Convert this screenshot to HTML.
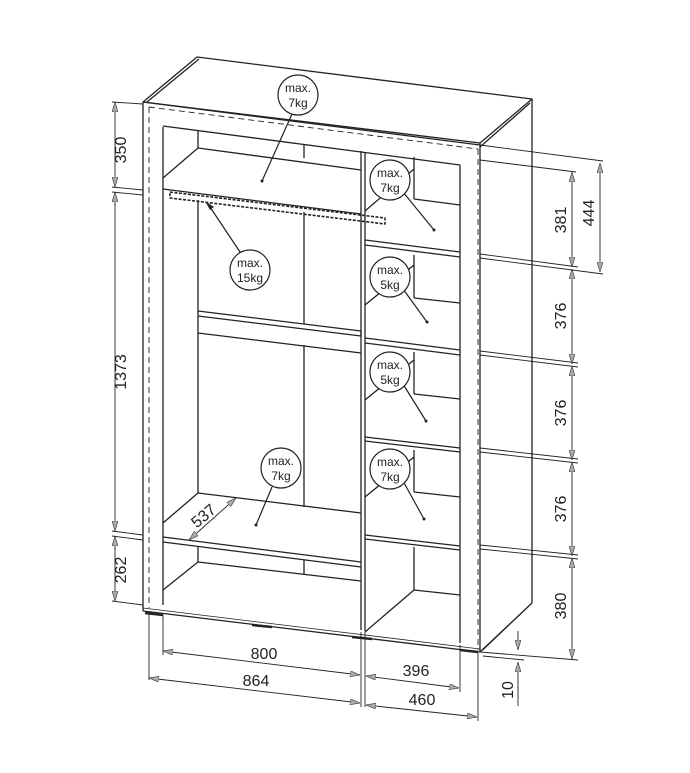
<!DOCTYPE html>
<html><head><meta charset="utf-8"><style>
html,body{margin:0;padding:0;background:#fff;}
svg{display:block;}
text{font-family:"Liberation Sans",sans-serif;fill:#222;}
</style></head><body>
<svg width="690" height="773" viewBox="0 0 690 773" xmlns="http://www.w3.org/2000/svg">
<defs>
<marker id="a" viewBox="0 0 10 6" refX="10" refY="3" markerWidth="10" markerHeight="6" orient="auto-start-reverse" markerUnits="userSpaceOnUse"><path d="M0,0 L10,3 L0,6 z" fill="#aaa" stroke="#333" stroke-width="0.6"/></marker>
</defs>
<g stroke="#222" stroke-width="1.3" fill="none" stroke-linejoin="round">
<!-- top face -->
<polygon points="143,102 197,57 532,99 480,143" fill="#fff"/>
<line x1="147" y1="102" x2="199" y2="59"/>
<line x1="480" y1="147" x2="530" y2="103"/>
<!-- front frame -->
<line x1="143" y1="102" x2="143" y2="611"/>
<line x1="143" y1="102" x2="480" y2="145"/>
<line x1="480" y1="143" x2="480" y2="652"/>
<line x1="143" y1="611" x2="480" y2="652"/>
<line x1="143" y1="608" x2="480" y2="649" stroke-width="0.8"/>
<!-- right side -->
<line x1="532" y1="99" x2="532" y2="603"/>
<line x1="532" y1="603" x2="480" y2="652"/>
<line x1="529" y1="606" x2="483" y2="650" stroke-width="0.8"/>
<!-- dashed -->
<g stroke-dasharray="6,4" stroke-width="0.9">
<line x1="149" y1="107" x2="149" y2="608"/>
<line x1="149" y1="107" x2="478" y2="149"/>
<line x1="478" y1="149" x2="478" y2="650"/>
</g>
<!-- inner -->
<line x1="163" y1="127" x2="163" y2="605"/>
<line x1="163" y1="126" x2="460" y2="165"/>
<line x1="460" y1="165" x2="460" y2="643"/>
<line x1="361" y1="151" x2="361" y2="630"/>
<line x1="365" y1="152" x2="365" y2="631"/>
<!-- back panel verticals -->
<line x1="198" y1="130" x2="198" y2="148"/>
<line x1="198" y1="200" x2="198" y2="311"/>
<line x1="198" y1="333" x2="198" y2="493"/>
<line x1="198" y1="546" x2="198" y2="562"/>
<line x1="304" y1="144" x2="304" y2="158"/>
<line x1="304" y1="212" x2="304" y2="324"/>
<line x1="304" y1="345" x2="304" y2="507"/>
<line x1="304" y1="560" x2="304" y2="575"/>
<line x1="414" y1="157" x2="414" y2="199"/>
<line x1="414" y1="255" x2="414" y2="298"/>
<line x1="414" y1="352" x2="414" y2="394"/>
<line x1="414" y1="450" x2="414" y2="492"/>
<line x1="414" y1="547" x2="414" y2="590"/>
<!-- left top shelf -->
<line x1="163" y1="178" x2="198" y2="148"/>
<line x1="198" y1="148" x2="361" y2="170"/>
<line x1="163" y1="189" x2="361" y2="214"/>
<!-- rod -->
<path d="M170,192 L385,218 L385,224 L170,198 Z" stroke-width="1.6" stroke-dasharray="3,1.5"/>
<!-- rail board -->
<polygon points="198,311 361,331 361,336 198,316"/>
<line x1="198" y1="316" x2="198" y2="333"/>
<line x1="198" y1="333" x2="361" y2="353"/>
<!-- lower shelf -->
<line x1="163" y1="523" x2="198" y2="493"/>
<line x1="198" y1="493" x2="361" y2="513"/>
<line x1="163" y1="537" x2="361" y2="562"/>
<line x1="163" y1="542" x2="361" y2="567"/>
<!-- bottom section -->
<line x1="163" y1="590" x2="198" y2="562"/>
<line x1="198" y1="562" x2="361" y2="581"/>
<!-- right shelves -->
<line x1="365" y1="211" x2="414" y2="169"/>
<line x1="414" y1="199" x2="460" y2="205"/>
<line x1="365" y1="240" x2="460" y2="252"/>
<line x1="365" y1="245" x2="460" y2="257"/>
<line x1="365" y1="305" x2="414" y2="265"/>
<line x1="414" y1="298" x2="460" y2="303"/>
<line x1="365" y1="338" x2="460" y2="350"/>
<line x1="365" y1="343" x2="460" y2="355"/>
<line x1="365" y1="400" x2="414" y2="360"/>
<line x1="414" y1="394" x2="460" y2="399"/>
<line x1="365" y1="437" x2="460" y2="448"/>
<line x1="365" y1="441" x2="460" y2="452"/>
<line x1="365" y1="497" x2="414" y2="457"/>
<line x1="414" y1="492" x2="460" y2="497"/>
<line x1="365" y1="535" x2="460" y2="546"/>
<line x1="365" y1="539" x2="460" y2="550"/>
<line x1="365" y1="632" x2="414" y2="590"/>
<line x1="414" y1="590" x2="460" y2="595"/>
<!-- feet -->
<line x1="145" y1="613" x2="163" y2="615" stroke-width="2.5"/>
<line x1="252" y1="625" x2="272" y2="627" stroke-width="2.5"/>
<line x1="352" y1="637" x2="372" y2="639" stroke-width="2.5"/>
<line x1="460" y1="650" x2="478" y2="652" stroke-width="2.5"/>
</g>
<!-- callouts -->
<g stroke="#222" stroke-width="1.2" fill="#fff">
<line x1="292" y1="114" x2="262" y2="181"/>
<line x1="403" y1="192" x2="434" y2="230"/>
<line x1="240" y1="252" x2="208" y2="204"/>
<line x1="403" y1="289" x2="427" y2="322"/>
<line x1="403" y1="384" x2="426" y2="421"/>
<line x1="272" y1="487" x2="256" y2="525"/>
<line x1="403" y1="481" x2="424" y2="519"/>
<circle cx="298" cy="95" r="20"/>
<circle cx="390" cy="180" r="20"/>
<circle cx="250" cy="270" r="20"/>
<circle cx="390" cy="277" r="20"/>
<circle cx="390" cy="372" r="20"/>
<circle cx="281" cy="468" r="20"/>
<circle cx="390" cy="469" r="20"/>
</g>
<g fill="#222"><circle cx="262" cy="181" r="1.5"/><circle cx="434" cy="230" r="1.5"/><circle cx="427" cy="322" r="1.5"/><circle cx="426" cy="421" r="1.5"/><circle cx="256" cy="525" r="1.5"/><circle cx="424" cy="519" r="1.5"/>
<polygon points="205,201 214,207 210,210"/></g>
<g font-size="12" text-anchor="middle">
<text x="298" y="92">max.</text><text x="298" y="107">7kg</text>
<text x="390" y="177">max.</text><text x="390" y="192">7kg</text>
<text x="250" y="267">max.</text><text x="250" y="282">15kg</text>
<text x="390" y="274">max.</text><text x="390" y="289">5kg</text>
<text x="390" y="369">max.</text><text x="390" y="384">5kg</text>
<text x="281" y="465">max.</text><text x="281" y="480">7kg</text>
<text x="390" y="466">max.</text><text x="390" y="481">7kg</text>
</g>
<!-- dimension lines -->
<g stroke="#222" stroke-width="0.9" fill="none">
<!-- left -->
<line x1="112" y1="102" x2="143" y2="104"/>
<line x1="112" y1="187" x2="143" y2="190"/>
<line x1="112" y1="192" x2="143" y2="195"/>
<line x1="112" y1="531" x2="143" y2="535"/>
<line x1="112" y1="536" x2="143" y2="540"/>
<line x1="112" y1="601" x2="143" y2="605"/>
<line x1="115" y1="102" x2="115" y2="187" marker-start="url(#a)" marker-end="url(#a)"/>
<line x1="115" y1="192" x2="115" y2="531" marker-start="url(#a)" marker-end="url(#a)"/>
<line x1="115" y1="536" x2="115" y2="601" marker-start="url(#a)" marker-end="url(#a)"/>
<!-- right extension -->
<line x1="480" y1="145" x2="603" y2="161"/>
<line x1="480" y1="160" x2="576" y2="172"/>
<line x1="480" y1="254" x2="578" y2="267"/>
<line x1="480" y1="258" x2="603" y2="274"/>
<line x1="480" y1="351" x2="578" y2="363"/>
<line x1="480" y1="355" x2="578" y2="367"/>
<line x1="480" y1="448" x2="578" y2="459"/>
<line x1="480" y1="452" x2="578" y2="463"/>
<line x1="480" y1="545" x2="578" y2="555"/>
<line x1="480" y1="549" x2="578" y2="559"/>
<line x1="480" y1="652" x2="578" y2="660"/>
<line x1="483" y1="656" x2="524" y2="660"/>
<line x1="572" y1="172" x2="572" y2="267" marker-start="url(#a)" marker-end="url(#a)"/>
<line x1="572" y1="269" x2="572" y2="364" marker-start="url(#a)" marker-end="url(#a)"/>
<line x1="572" y1="366" x2="572" y2="460" marker-start="url(#a)" marker-end="url(#a)"/>
<line x1="572" y1="462" x2="572" y2="556" marker-start="url(#a)" marker-end="url(#a)"/>
<line x1="572" y1="558" x2="572" y2="659" marker-start="url(#a)" marker-end="url(#a)"/>
<line x1="600" y1="163" x2="600" y2="272" marker-start="url(#a)" marker-end="url(#a)"/>
<line x1="518" y1="631" x2="518" y2="650" marker-end="url(#a)"/>
<line x1="518" y1="706" x2="518" y2="662" marker-end="url(#a)"/>
<!-- bottom -->
<line x1="149" y1="612" x2="149" y2="680"/>
<line x1="163" y1="615" x2="163" y2="655"/>
<line x1="361" y1="632" x2="361" y2="707"/>
<line x1="365" y1="632" x2="365" y2="707"/>
<line x1="460" y1="645" x2="460" y2="692"/>
<line x1="478" y1="653" x2="478" y2="721"/>
<line x1="163" y1="651" x2="360" y2="675" marker-start="url(#a)" marker-end="url(#a)"/>
<line x1="149" y1="678" x2="360" y2="703" marker-start="url(#a)" marker-end="url(#a)"/>
<line x1="366" y1="676" x2="459" y2="688" marker-start="url(#a)" marker-end="url(#a)"/>
<line x1="366" y1="705" x2="477" y2="717" marker-start="url(#a)" marker-end="url(#a)"/>
<!-- 537 -->
<line x1="189" y1="540" x2="236" y2="498" marker-start="url(#a)" marker-end="url(#a)"/>
</g>
<g font-size="16">
<text transform="translate(126,150) rotate(-90)" text-anchor="middle">350</text>
<text transform="translate(126,372) rotate(-90)" text-anchor="middle">1373</text>
<text transform="translate(126,570) rotate(-90)" text-anchor="middle">262</text>
<text transform="translate(566,220) rotate(-90)" text-anchor="middle">381</text>
<text transform="translate(594,213) rotate(-90)" text-anchor="middle">444</text>
<text transform="translate(566,316) rotate(-90)" text-anchor="middle">376</text>
<text transform="translate(566,413) rotate(-90)" text-anchor="middle">376</text>
<text transform="translate(566,509) rotate(-90)" text-anchor="middle">376</text>
<text transform="translate(566,606) rotate(-90)" text-anchor="middle">380</text>
<text transform="translate(513,690) rotate(-90)" text-anchor="middle">10</text>
<text transform="translate(207,520) rotate(-40)" text-anchor="middle">537</text>
<text x="264" y="659" text-anchor="middle">800</text>
<text x="256" y="686" text-anchor="middle">864</text>
<text x="416" y="676" text-anchor="middle">396</text>
<text x="422" y="705" text-anchor="middle">460</text>
</g>
</svg>
</body></html>
